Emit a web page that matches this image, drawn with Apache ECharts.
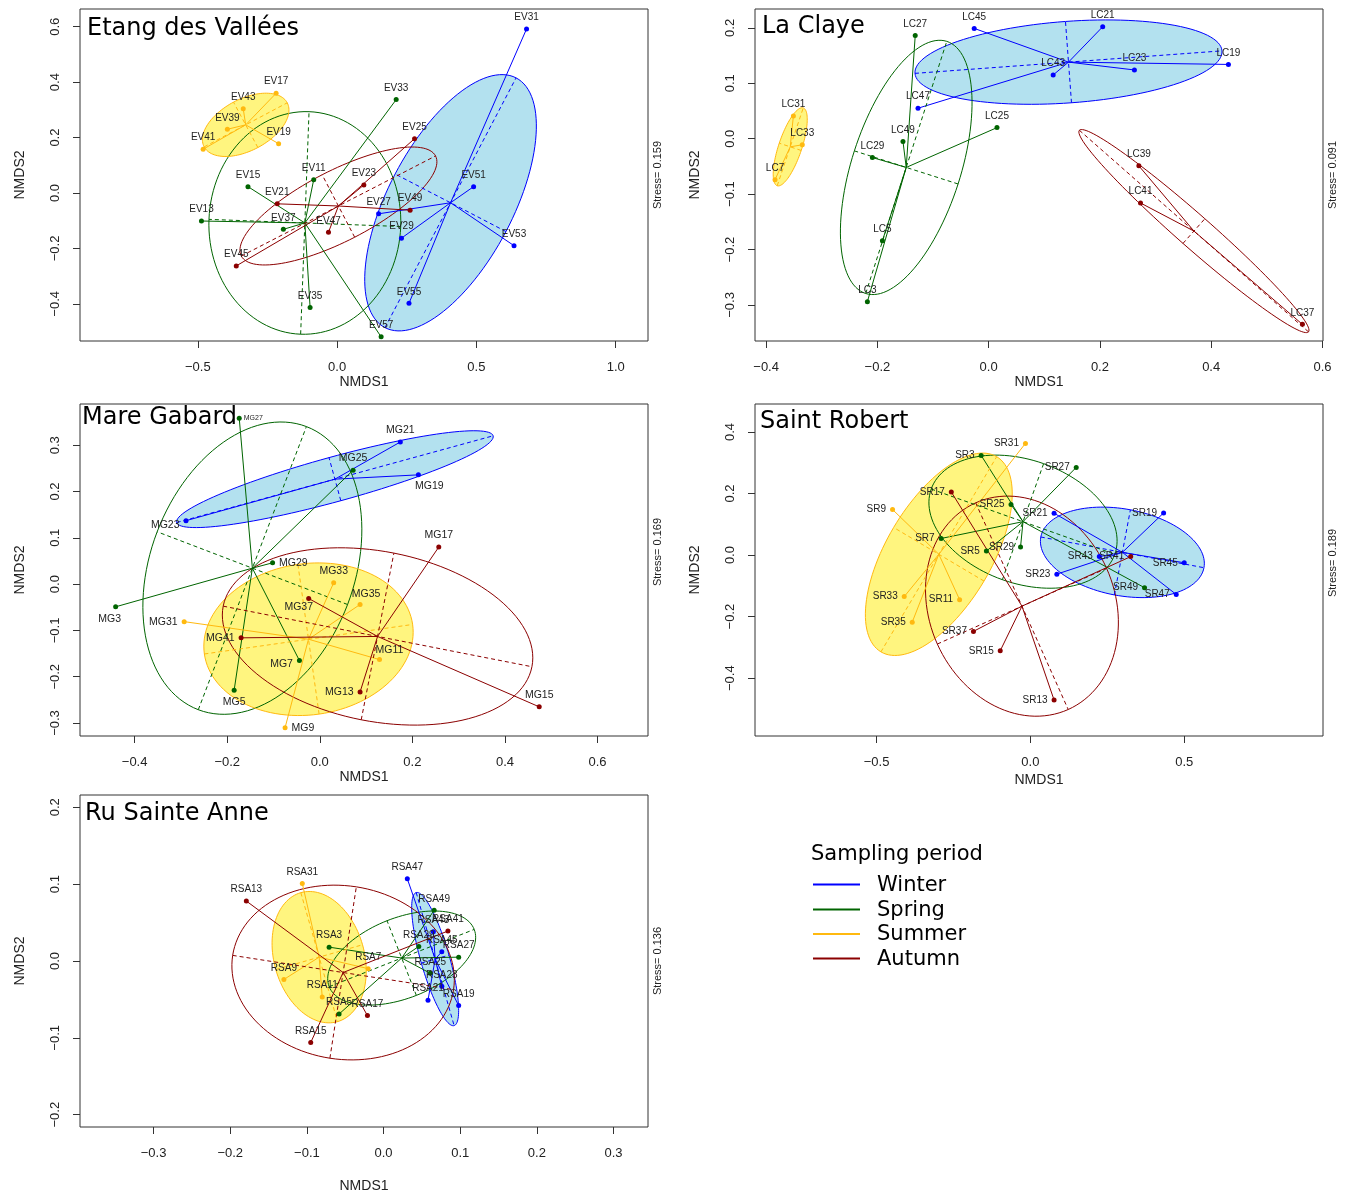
<!DOCTYPE html>
<html><head><meta charset="utf-8">
<script src="https://cdn.jsdelivr.net/npm/echarts@6/dist/echarts.min.js"></script>
<style>html,body{margin:0;padding:0;background:#fff}#c{width:1357px;height:1195px}</style>
</head><body><div id="c"></div>
<script>
// ---------------- DATA ----------------
const seasonOrder = ['W', 'Sp', 'Su', 'A'];
const seasonNames = ['Winter', 'Spring', 'Summer', 'Autumn'];

// Etang des Vallées
const EV_names = ['EV31','EV51','EV53','EV55','EV29','EV27','EV33','EV11','EV15','EV13','EV37','EV35','EV57','EV17','EV43','EV39','EV41','EV19','EV25','EV23','EV21','EV49','EV47','EV45'];
const EV_season = ['W','W','W','W','W','W','Sp','Sp','Sp','Sp','Sp','Sp','Sp','Su','Su','Su','Su','Su','A','A','A','A','A','A'];
const EV_x = [0.680,0.490,0.635,0.258,0.231,0.149, 0.212,-0.084,-0.320,-0.487,-0.193,-0.097,0.158, -0.219,-0.337,-0.394,-0.481,-0.210, 0.278,0.096,-0.215,0.262,-0.031,-0.362];
const EV_y = [0.592,0.023,-0.190,-0.398,-0.163,-0.075, 0.337,0.048,0.023,-0.101,-0.131,-0.413,-0.519, 0.360,0.304,0.230,0.158,0.178, 0.196,0.029,-0.039,-0.062,-0.142,-0.263];
const EV_stress = '0.159';
const EV_xticks = [-0.5, 0, 0.5, 1.0];
const EV_yticks = [-0.4, -0.2, 0, 0.2, 0.4, 0.6];

// La Claye
const LC_names = ['LC45','LC21','LC19','LC23','LC43','LC47','LC27','LC25','LC49','LC29','LC5','LC3','LC31','LC33','LC7','LC39','LC41','LC37'];
const LC_season = ['W','W','W','W','W','W','Sp','Sp','Sp','Sp','Sp','Sp','Su','Su','Su','A','A','A'];
const LC_x = [-0.026,0.205,0.431,0.262,0.116,-0.127, -0.132,0.015,-0.154,-0.209,-0.191,-0.218, -0.351,-0.335,-0.384, 0.270,0.273,0.564];
const LC_y = [0.199,0.202,0.134,0.124,0.115,0.055, 0.186,0.020,-0.005,-0.034,-0.184,-0.294, 0.041,-0.011,-0.074, -0.049,-0.116,-0.335];
const LC_stress = '0.091';
const LC_xticks = [-0.4, -0.2, 0, 0.2, 0.4, 0.6];
const LC_yticks = [-0.3, -0.2, -0.1, 0, 0.1, 0.2];

// Mare Gabard
const MG_names = ['MG21','MG19','MG23','MG27','MG25','MG29','MG3','MG7','MG5','MG33','MG35','MG31','MG11','MG9','MG17','MG37','MG41','MG13','MG15'];
const MG_season = ['W','W','W','Sp','Sp','Sp','Sp','Sp','Sp','Su','Su','Su','Su','Su','A','A','A','A','A'];
const MG_x = [0.174,0.213,-0.289, -0.174,0.072,-0.102,-0.441,-0.044,-0.185, 0.030,0.087,-0.293,0.129,-0.075, 0.257,-0.024,-0.170,0.087,0.474];
const MG_y = [0.307,0.236,0.137, 0.358,0.246,0.046,-0.049,-0.165,-0.229, 0.003,-0.044,-0.081,-0.163,-0.310, 0.080,-0.031,-0.116,-0.233,-0.265];
const MG_stress = '0.169';
const MG_xticks = [-0.4, -0.2, 0, 0.2, 0.4, 0.6];
const MG_yticks = [-0.3, -0.2, -0.1, 0, 0.1, 0.2, 0.3];

// Saint Robert
const SR_names = ['SR19','SR21','SR43','SR23','SR45','SR47','SR3','SR27','SR25','SR7','SR5','SR29','SR49','SR31','SR9','SR33','SR11','SR35','SR17','SR41','SR37','SR15','SR13'];
const SR_season = ['W','W','W','W','W','W','Sp','Sp','Sp','Sp','Sp','Sp','Sp','Su','Su','Su','Su','Su','A','A','A','A','A'];
const SR_x = [0.433,0.077,0.224,0.086,0.500,0.474, -0.160,0.149,-0.063,-0.290,-0.143,-0.032,0.371, -0.016,-0.448,-0.410,-0.230,-0.384, -0.257,0.326,-0.185,-0.098,0.077];
const SR_y = [0.137,0.136,-0.005,-0.062,-0.025,-0.128, 0.324,0.285,0.164,0.054,0.013,0.026,-0.106, 0.363,0.148,-0.135,-0.145,-0.218, 0.205,-0.005,-0.248,-0.311,-0.471];
const SR_stress = '0.189';
const SR_xticks = [-0.5, 0, 0.5];
const SR_yticks = [-0.4, -0.2, 0, 0.2, 0.4];

// Ru Sainte Anne
const RSA_names = ['RSA47','RSA43','RSA45','RSA23','RSA21','RSA19','RSA3','RSA5','RSA49','RSA29','RSA27','RSA25','RSA31','RSA9','RSA11','RSA7','RSA13','RSA15','RSA17','RSA41'];
const RSA_season = ['W','W','W','W','W','W','Sp','Sp','Sp','Sp','Sp','Sp','Su','Su','Su','Su','A','A','A','A'];
const RSA_x = [0.031,0.065,0.076,0.076,0.058,0.098, -0.071,-0.058,0.066,0.046,0.098,0.061, -0.106,-0.130,-0.080,-0.020, -0.179,-0.095,-0.021,0.084];
const RSA_y = [0.107,0.038,0.012,-0.033,-0.051,-0.058, 0.018,-0.069,0.066,0.019,0.005,-0.016, 0.101,-0.024,-0.047,-0.010, 0.078,-0.106,-0.071,0.039];
const RSA_stress = '0.136';
const RSA_xticks = [-0.3, -0.2, -0.1, 0, 0.1, 0.2, 0.3];
const RSA_yticks = [-0.2, -0.1, 0, 0.1, 0.2];

// ---------------- STYLE / LAYOUT ----------------
const COLORS = {W:'#0000FF', Sp:'#006400', Su:'#FFB90F', A:'#8B0000'};
const FILLS = {W:'#B3E1EF', Su:'rgba(255,236,0,0.5)'};
const ELL_SCALE = 1.5;
const LABEL_FONT = '"Liberation Sans", Arial, sans-serif';
const TITLE_FONT = '"DejaVu Sans", Verdana, sans-serif';

const MG_labelPlace = {
  MG27:{position:'right', distance:2, fontSize:7},
  MG19:{position:'bottom', offset:[11,-1]},
  MG23:{position:'left', offset:[0,4]},
  MG11:{position:'top', offset:[10,3]},
  MG35:{position:'top', offset:[6,2]},
  MG37:{position:'bottom', offset:[-10,-3]},
  MG7:{position:'left', offset:[0,4]},
  MG29:{position:'right'},
  MG31:{position:'left'},
  MG41:{position:'left'},
  MG13:{position:'left'},
  MG9:{position:'right'},
  MG5:{position:'bottom'},
  MG3:{position:'bottom', offset:[-6,0]}
};

const panels = [
  {title:'Etang des Vallées', names:EV_names, season:EV_season, x:EV_x, y:EV_y, stress:EV_stress, xticks:EV_xticks, yticks:EV_yticks,
   box:[80,9,568,332], xr:[-0.923,1.116], yr:[-0.534,0.664], titleAt:[87,29], stressAt:[658,175], xGap:33, yGap:53, lab:'top', fs:10},
  {title:'La Claye', names:LC_names, season:LC_season, x:LC_x, y:LC_y, stress:LC_stress, xticks:LC_xticks, yticks:LC_yticks,
   box:[755,9,568,332], xr:[-0.420,0.601], yr:[-0.365,0.234], titleAt:[762,27], stressAt:[1333,175], xGap:33, yGap:53, lab:'top', fs:10},
  {title:'Mare Gabard', names:MG_names, season:MG_season, x:MG_x, y:MG_y, stress:MG_stress, xticks:MG_xticks, yticks:MG_yticks,
   box:[80,404,568,332], xr:[-0.518,0.709], yr:[-0.328,0.389], titleAt:[82,418], stressAt:[658,552], xGap:33, yGap:53, lab:'top', fs:10.5, place:MG_labelPlace},
  {title:'Saint Robert', names:SR_names, season:SR_season, x:SR_x, y:SR_y, stress:SR_stress, xticks:SR_xticks, yticks:SR_yticks,
   box:[755,404,568,332], xr:[-0.895,0.951], yr:[-0.588,0.491], titleAt:[760,422], stressAt:[1333,563], xGap:37, yGap:53, lab:'left', fs:10},
  {title:'Ru Sainte Anne', names:RSA_names, season:RSA_season, x:RSA_x, y:RSA_y, stress:RSA_stress, xticks:RSA_xticks, yticks:RSA_yticks,
   box:[80,795,568,332], xr:[-0.396,0.345], yr:[-0.216,0.216], titleAt:[85,814], stressAt:[658,961], xGap:52, yGap:53, lab:'top', fs:10}
];

// ---------------- STATS ----------------
function groupStats(P, code) {
  const idx = [];
  P.season.forEach((s, i) => { if (s === code) idx.push(i); });
  const n = idx.length;
  const xs = idx.map(i => P.x[i]), ys = idx.map(i => P.y[i]);
  const cx = xs.reduce((a,b)=>a+b,0)/n, cy = ys.reduce((a,b)=>a+b,0)/n;
  let sxx=0, syy=0, sxy=0;
  for (let k=0;k<n;k++){ const dx=xs[k]-cx, dy=ys[k]-cy; sxx+=dx*dx; syy+=dy*dy; sxy+=dx*dy; }
  sxx/=n; syy/=n; sxy/=n;
  const tr=(sxx+syy)/2, disc=Math.sqrt(((sxx-syy)/2)**2 + sxy*sxy);
  const l1=tr+disc, l2=Math.max(tr-disc,0);
  const th=0.5*Math.atan2(2*sxy, sxx-syy);
  const v1=[Math.cos(th), Math.sin(th)], v2=[-Math.sin(th), Math.cos(th)];
  const a=ELL_SCALE*Math.sqrt(l1), b=ELL_SCALE*Math.sqrt(l2);
  const pts=[];
  for (let t=0;t<120;t++){ const ang=2*Math.PI*t/120; const c=Math.cos(ang), s=Math.sin(ang);
    pts.push([cx + a*c*v1[0] + b*s*v2[0], cy + a*c*v1[1] + b*s*v2[1]]); }
  return {code, idx, cx, cy, pts,
    axes:[[cx-a*v1[0], cy-a*v1[1], cx+a*v1[0], cy+a*v1[1]], [cx-b*v2[0], cy-b*v2[1], cx+b*v2[0], cy+b*v2[1]]]};
}

const fmt = v => (v < -1e-9 ? '\u2212' : '') + Math.abs(v).toFixed(1);

const grids=[], xAxes=[], yAxes=[], series=[], graphics=[];
panels.forEach((P, pi) => {
  grids.push({left:P.box[0], top:P.box[1], width:P.box[2], height:P.box[3], show:true, borderColor:'#333', borderWidth:1, backgroundColor:'transparent'});
  const axisCommon = {
    type:'value', nameLocation:'middle',
    nameTextStyle:{fontFamily:LABEL_FONT, fontSize:14, color:'#222'},
    axisLine:{show:false, onZero:false},
    splitLine:{show:false}
  };
  xAxes.push(Object.assign({}, axisCommon, {gridIndex:pi, min:P.xr[0], max:P.xr[1], name:'NMDS1', nameGap:P.xGap,
    axisTick:{show:true, length:7, customValues:P.xticks, lineStyle:{color:'#333'}},
    axisLabel:{customValues:P.xticks, formatter:fmt, margin:20, fontSize:13, color:'#222', fontFamily:LABEL_FONT, showMinLabel:true, showMaxLabel:true}}));
  yAxes.push(Object.assign({}, axisCommon, {gridIndex:pi, min:P.yr[0], max:P.yr[1], name:'NMDS2', nameGap:P.yGap,
    axisTick:{show:true, length:7, customValues:P.yticks, lineStyle:{color:'#333'}},
    axisLabel:{customValues:P.yticks, formatter:fmt, margin:18, rotate:90, fontSize:13, color:'#222', fontFamily:LABEL_FONT, showMinLabel:true, showMaxLabel:true}}));

  const groups = seasonOrder.map(c => groupStats(P, c));

  // ellipse fills
  const fillGroups = groups.filter(g => FILLS[g.code]);
  series.push({type:'custom', xAxisIndex:pi, yAxisIndex:pi, z:1, silent:true, clip:false,
    data: fillGroups.map(g => [g.cx, g.cy]),
    renderItem:(params, api) => {
      const g = fillGroups[params.dataIndex];
      return {type:'polygon', shape:{points:g.pts.map(q => api.coord(q))}, style:{fill:FILLS[g.code], stroke:null}};
    }});
  // ellipse outlines
  series.push({type:'custom', xAxisIndex:pi, yAxisIndex:pi, z:2, silent:true, clip:false,
    data: groups.map(g => [g.cx, g.cy]),
    renderItem:(params, api) => {
      const g = groups[params.dataIndex];
      return {type:'polygon', shape:{points:g.pts.map(q => api.coord(q))}, style:{fill:null, stroke:COLORS[g.code], lineWidth:1}};
    }});
  // segments: dashed axes and spider lines
  const segs = [];
  groups.forEach(g => {
    g.axes.forEach(a => segs.push({v:a, color:COLORS[g.code], dash:true}));
    g.idx.forEach(i => segs.push({v:[g.cx, g.cy, P.x[i], P.y[i]], color:COLORS[g.code], dash:false}));
  });
  series.push({type:'custom', xAxisIndex:pi, yAxisIndex:pi, z:3, silent:true, clip:false,
    encode:{x:[0,2], y:[1,3]},
    data: segs.map(s => s.v),
    renderItem:(params, api) => {
      const s = segs[params.dataIndex];
      const a = api.coord([api.value(0), api.value(1)]);
      const b = api.coord([api.value(2), api.value(3)]);
      return {type:'line', shape:{x1:a[0], y1:a[1], x2:b[0], y2:b[1]},
        style:{stroke:s.color, lineWidth:1, lineDash: s.dash ? [4,3] : null, fill:null}};
    }});
  // points
  groups.forEach((g, gi) => {
    series.push({type:'scatter', name:seasonNames[gi], xAxisIndex:pi, yAxisIndex:pi, z:5,
      symbol:'circle', symbolSize:5, itemStyle:{color:COLORS[g.code], opacity:1},
      label:{show:true, position:P.lab, distance:4, fontSize:P.fs, fontFamily:LABEL_FONT, color:'#222', formatter:p => p.name},
      data: g.idx.map(i => {
        const item = {name:P.names[i], value:[P.x[i], P.y[i]]};
        if (P.place && P.place[P.names[i]]) item.label = Object.assign({show:true}, P.place[P.names[i]]);
        return item;
      })});
  });

  graphics.push({type:'text', x:P.titleAt[0], y:P.titleAt[1], style:{text:P.title, font:'24px ' + TITLE_FONT, fill:'#000', align:'left', verticalAlign:'middle', textAlign:'left', textVerticalAlign:'middle'}});
  graphics.push({type:'text', x:P.stressAt[0], y:P.stressAt[1], rotation:Math.PI/2,
    style:{text:'Stress= ' + P.stress, font:'11px ' + LABEL_FONT, fill:'#222', align:'center', verticalAlign:'middle', textAlign:'center', textVerticalAlign:'middle'}});
});

// legend (drawn as graphics)
graphics.push({type:'text', x:811, y:855, style:{text:'Sampling period', font:'21px ' + TITLE_FONT, fill:'#000', align:'left', verticalAlign:'middle', textAlign:'left', textVerticalAlign:'middle'}});
const legendY = [884.5, 909.5, 934, 958.5];
seasonOrder.forEach((c, i) => {
  graphics.push({type:'line', shape:{x1:813, y1:legendY[i], x2:860, y2:legendY[i]}, style:{stroke:COLORS[c], lineWidth:2}});
  graphics.push({type:'text', x:877, y:legendY[i] + 1, style:{text:seasonNames[i], font:'21px ' + TITLE_FONT, fill:'#000', align:'left', verticalAlign:'middle', textAlign:'left', textVerticalAlign:'middle'}});
});

const chart = echarts.init(document.getElementById('c'));
chart.setOption({
  animation:false,
  backgroundColor:'#fff',
  grid:grids, xAxis:xAxes, yAxis:yAxes, series:series, graphic:graphics
});
</script></body></html>
